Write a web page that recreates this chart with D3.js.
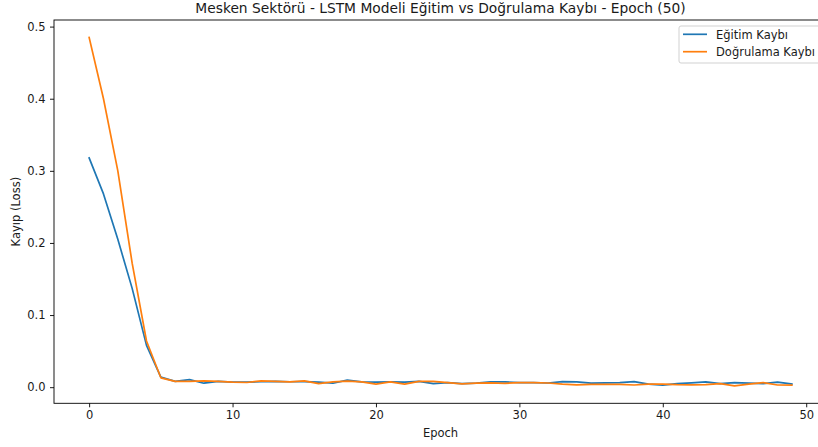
<!DOCTYPE html>
<html>
<head>
<meta charset="utf-8">
<script src="https://cdn.jsdelivr.net/npm/d3@7"></script>
<style>
  html, body { margin: 0; padding: 0; background: #fff; }
  svg { display: block; font-family: "DejaVu Sans", sans-serif; }
</style>
</head>
<body>
<svg id="chart" width="818" height="447"></svg>
<script>
const epochs = d3.range(0, 50);
const trainLoss = [
  0.318, 0.268, 0.205, 0.137, 0.058, 0.014, 0.008, 0.0105, 0.0055, 0.008,
  0.007, 0.007, 0.0075, 0.008, 0.0075, 0.0078, 0.007, 0.0055, 0.0097, 0.0074,
  0.007, 0.0074, 0.007, 0.008, 0.005, 0.0064, 0.005, 0.0055, 0.0074, 0.0074,
  0.0064, 0.0064, 0.0058, 0.0078, 0.0074, 0.0055, 0.006, 0.0064, 0.0078, 0.0042,
  0.0028, 0.005, 0.006, 0.0074, 0.005, 0.0064, 0.0055, 0.005, 0.007, 0.0045
];
const valLoss = [
  0.485, 0.40, 0.30, 0.172, 0.064, 0.013, 0.008, 0.008, 0.0087, 0.008,
  0.007, 0.0065, 0.0087, 0.008, 0.0074, 0.0088, 0.005, 0.0074, 0.0083, 0.0074,
  0.0042, 0.0074, 0.0042, 0.008, 0.008, 0.0064, 0.0045, 0.0055, 0.006, 0.0053,
  0.0064, 0.0064, 0.0058, 0.0042, 0.0033, 0.004, 0.004, 0.004, 0.003, 0.0042,
  0.0042, 0.0035, 0.0033, 0.0035, 0.005, 0.0018, 0.0042, 0.0064, 0.003, 0.0028
];
const xTicks = [0, 10, 20, 30, 40, 50];
const yTicks = [0.0, 0.1, 0.2, 0.3, 0.4, 0.5];
const seriesNames = ["Eğitim Kaybı", "Doğrulama Kaybı"];
const seriesColors = ["#1f77b4", "#ff7f0e"];
const titleText = "Mesken Sektörü - LSTM Modeli Eğitim vs Doğrulama Kaybı - Epoch (50)";
const xLabelText = "Epoch";
const yLabelText = "Kayıp (Loss)";

const svg = d3.select("#chart");
const pL = 54, pR = 827, pT = 20, pB = 403.3;
const fs = 11.5, fsTitle = 13.8, txtCol = "#1a1a1a";

// matplotlib-like 5% margins
const xMin = d3.min(epochs), xMax = d3.max(epochs);
const xPad = (xMax - xMin) * 0.05;
const allY = trainLoss.concat(valLoss);
const yMin = d3.min(allY), yMax = d3.max(allY);
const yPad = (yMax - yMin) * 0.05;

const x = d3.scaleLinear().domain([xMin - xPad, xMax + xPad]).range([pL, pR]);
const y = d3.scaleLinear().domain([yMin - yPad, yMax + yPad]).range([pB, pT]);

// axes
const xAxis = svg.append("g").attr("transform", `translate(0,${pB})`)
  .call(d3.axisBottom(x).tickValues(xTicks).tickFormat(d3.format("d")).tickSizeOuter(0).tickSize(4).tickPadding(4));
const yAxis = svg.append("g").attr("transform", `translate(${pL},0)`)
  .call(d3.axisLeft(y).tickValues(yTicks).tickFormat(d3.format(".1f")).tickSizeOuter(0).tickSize(4).tickPadding(4.5));
[xAxis, yAxis].forEach(g => {
  g.select(".domain").remove();
  g.selectAll(".tick line").attr("stroke", "#000").attr("stroke-width", 0.9);
  g.selectAll(".tick text").attr("fill", txtCol).attr("font-size", fs).attr("font-family", "DejaVu Sans");
});

// spines
svg.append("rect").attr("x", pL).attr("y", pT).attr("width", pR - pL).attr("height", pB - pT)
  .attr("fill", "none").attr("stroke", "#000").attr("stroke-width", 0.9);

// lines
const line = d3.line().x((d, i) => x(epochs[i])).y(d => y(d));
[trainLoss, valLoss].forEach((s, k) => {
  svg.append("path").datum(s).attr("d", line).attr("fill", "none")
    .attr("stroke", seriesColors[k]).attr("stroke-width", 1.7).attr("stroke-linejoin", "round").attr("stroke-linecap", "square");
});

// title & labels
svg.append("text").attr("x", (pL + pR) / 2).attr("y", 12.7).attr("text-anchor", "middle")
  .attr("font-size", fsTitle).attr("fill", txtCol).text(titleText);
svg.append("text").attr("x", (pL + pR) / 2).attr("y", 437).attr("text-anchor", "middle")
  .attr("font-size", fs).attr("fill", txtCol).text(xLabelText);
svg.append("text").attr("transform", `translate(20,${(pT + pB) / 2}) rotate(-90)`).attr("text-anchor", "middle")
  .attr("font-size", fs).attr("fill", txtCol).text(yLabelText);

// legend
const lg = svg.append("g");
lg.append("rect").attr("x", 679).attr("y", 26).attr("width", 143).attr("height", 37).attr("rx", 2)
  .attr("fill", "#fff").attr("fill-opacity", 0.8).attr("stroke", "#ccc").attr("stroke-width", 0.9);
seriesNames.forEach((n, i) => {
  const yy = 34.3 + i * 17.4;
  lg.append("line").attr("x1", 683).attr("x2", 707).attr("y1", yy).attr("y2", yy)
    .attr("stroke", seriesColors[i]).attr("stroke-width", 1.7);
  lg.append("text").attr("x", 716).attr("y", yy + 4.2).attr("font-size", fs).attr("fill", txtCol).text(n);
});
</script>
</body>
</html>
